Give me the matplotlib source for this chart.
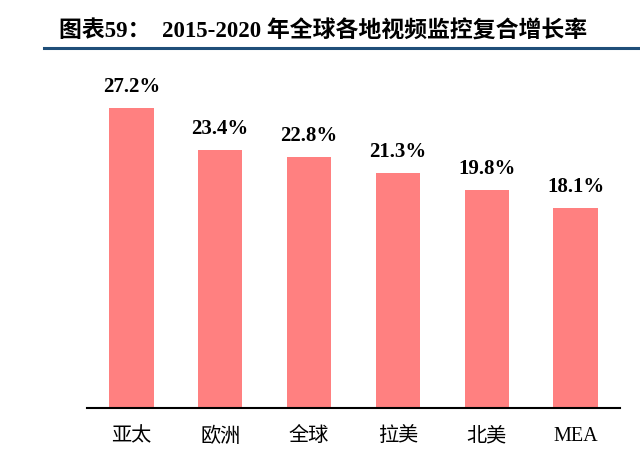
import numpy as np
import matplotlib
matplotlib.use('Agg')
import matplotlib.pyplot as plt

regions = ['亚太', '欧洲', '全球', '拉美', '北美', 'MEA']
cagr = [27.2, 23.4, 22.8, 21.3, 19.8, 18.1]
title = '图表59：  2015-2020 年全球各地视频监控复合增长率'

fonts = ['Liberation Serif', 'Noto Sans CJK SC', 'DejaVu Sans']
plt.rcParams['font.family'] = fonts

fig = plt.figure(figsize=(6.4, 4.54), dpi=100)
ax = fig.add_axes([87/640, 46/454, 533/640, 348/454])

x = np.arange(len(regions))
ax.bar(x, cagr, width=0.5, color='#FF8080')

for xi, v in zip(x, cagr):
    ax.text(xi, v + 1.9, '%.1f%%' % v, ha='center', va='center',
            fontsize=15, fontweight='bold')

ax.set_xlim(-0.5, len(regions) - 0.5)
ax.set_ylim(0, 31.55)
ax.set_xticks(x)
ax.set_xticklabels(regions, fontsize=14.5)
ax.tick_params(axis='x', length=0, pad=14)
ax.set_yticks([])
for s in ['top', 'right', 'left']:
    ax.spines[s].set_visible(False)
ax.spines['bottom'].set_linewidth(1.5)

# title and rule under it
fig.text(59/640, 1 - 32/454, title, fontsize=16.5, fontweight='bold',
         ha='left', va='center')
fig.add_artist(plt.Line2D([44/640, 1], [1 - 48/454, 1 - 48/454],
                          color='#1F4E79', lw=2.2))

fig.savefig('out.png', dpi=100)
